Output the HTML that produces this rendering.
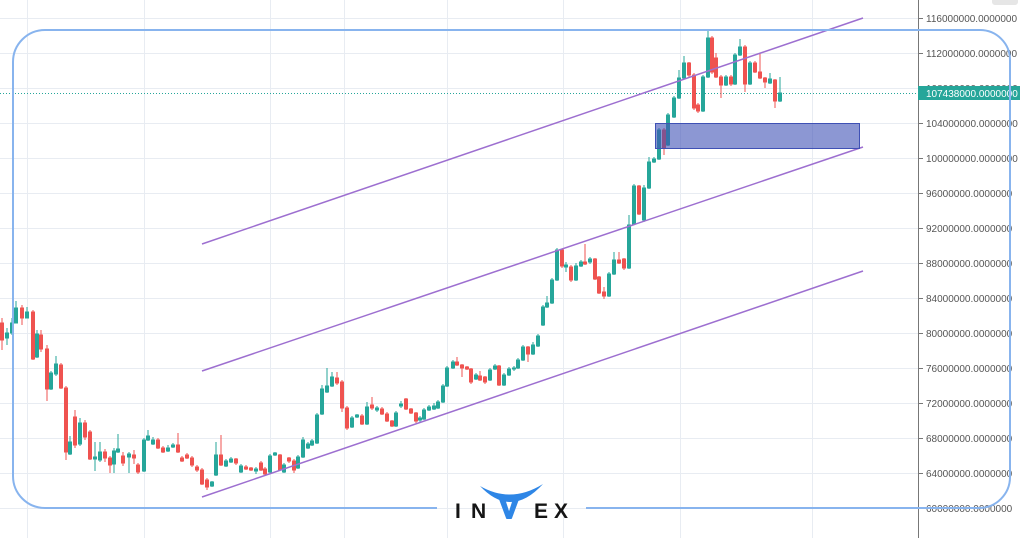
<!DOCTYPE html>
<html><head><meta charset="utf-8"><style>
html,body{margin:0;padding:0;background:#fff;}
svg{display:block;}
text{font-family:"Liberation Sans",sans-serif;}
</style></head><body>
<svg width="1024" height="538" viewBox="0 0 1024 538" xmlns="http://www.w3.org/2000/svg">
<rect width="1024" height="538" fill="#fff"/>
<g stroke="#e8ecf2" stroke-width="1">
<path d="M0 18.5H918M0 53.5H918M0 88.5H918M0 123.5H918M0 158.5H918M0 193.5H918M0 228.5H918M0 263.5H918M0 298.5H918M0 333.5H918M0 368.5H918M0 403.5H918M0 438.5H918M0 473.5H918M0 508.5H918"/>
<path d="M27.5 0V538M144.5 0V538M270.5 0V538M344.5 0V538M447.5 0V538M563.5 0V538M680.5 0V538M812.5 0V538"/>
</g>
<line x1="0" y1="93.5" x2="918" y2="93.5" stroke="#26a69a" stroke-width="1" stroke-dasharray="1,2"/>
<g fill="#26a69a" stroke="#26a69a" stroke-width="1">
<path d="M7 328V345M5.5 333h3V338h-3zM12 318V335M10.5 323h3V333h-3zM16 301V323M14.5 308h3V323h-3zM27 307V318M25.5 312h3V318h-3zM37 330V358M35.5 334h3V357h-3zM51 371V390M49.5 373h3V389h-3zM56 356V376M54.5 364h3V374h-3zM70 436V455M68.5 442h3V454h-3zM80 418V446M78.5 423h3V444h-3zM95 442V471M93.5 457h3V459h-3zM100 442V462M98.5 452h3V460h-3zM114 448V473M112.5 451h3V464h-3zM118 434V453M116.5 449h3V452h-3zM129 452V473M127.5 454h3V457h-3zM144 438V472M142.5 440h3V471h-3zM148 430V441M146.5 436h3V440h-3zM153 437V445M151.5 440h3V444h-3zM168 445V452M166.5 448h3V451h-3zM173 443V448M171.5 445h3V447h-3zM212 481V487M210.5 482h3V486h-3zM216 442V476M214.5 455h3V475h-3zM226 459V467M224.5 461h3V466h-3zM231 457V463M229.5 459h3V462h-3zM241 464V473M239.5 466h3V472h-3zM256 467V474M254.5 469h3V471h-3zM270 454V473M268.5 456h3V472h-3zM275 452V456M273.5 453h3V455h-3zM284 463V473M282.5 465h3V472h-3zM298 455V469M296.5 457h3V468h-3zM303 437V458M301.5 440h3V457h-3zM308 442V449M306.5 444h3V448h-3zM312 439V446M310.5 441h3V445h-3zM317 413V444M315.5 415h3V443h-3zM322 385V415M320.5 389h3V414h-3zM327 368V393M325.5 386h3V392h-3zM332 372V387M330.5 377h3V386h-3zM352 416V428M350.5 418h3V427h-3zM357 414V418M355.5 415h3V417h-3zM367 402V425M365.5 407h3V424h-3zM377 406V412M375.5 408h3V410h-3zM396 411V427M394.5 413h3V426h-3zM401 401V408M399.5 404h3V406h-3zM420 416V422M418.5 418h3V420h-3zM424 408V420M422.5 410h3V419h-3zM429 405V411M427.5 407h3V410h-3zM434 403V410M432.5 406h3V409h-3zM438 400V409M436.5 402h3V408h-3zM443 384V403M441.5 386h3V402h-3zM447 366V387M445.5 368h3V386h-3zM453 360V369M451.5 362h3V368h-3zM476 373V380M474.5 375h3V379h-3zM490 368V381M488.5 370h3V380h-3zM495 364V370M493.5 366h3V369h-3zM504 373V386M502.5 375h3V385h-3zM509 367V376M507.5 369h3V375h-3zM514 366V371M512.5 368h3V369h-3zM518 358V369M516.5 360h3V368h-3zM523 345V361M521.5 347h3V360h-3zM533 342V355M531.5 345h3V354h-3zM538 334V347M536.5 336h3V346h-3zM543 305V326M541.5 307h3V325h-3zM547 296V308M545.5 303h3V307h-3zM552 278V304M550.5 280h3V303h-3zM557 248V281M555.5 250h3V280h-3zM566 262V272M564.5 265h3V267h-3zM576 263V281M574.5 266h3V280h-3zM581 260V267M579.5 262h3V266h-3zM590 257V264M588.5 259h3V262h-3zM609 272V297M607.5 274h3V296h-3zM614 252V275M612.5 260h3V274h-3zM629 215V269M627.5 225h3V268h-3zM634 184V225M632.5 186h3V224h-3zM644 185V222M642.5 188h3V220h-3zM649 157V189M647.5 162h3V188h-3zM654 157V163M652.5 159h3V162h-3zM659 128V160M657.5 130h3V159h-3zM668 113V146M666.5 115h3V145h-3zM674 96V118M672.5 98h3V117h-3zM679 70V99M677.5 78h3V98h-3zM684 56V79M682.5 63h3V78h-3zM703 75V112M701.5 77h3V111h-3zM708 30V78M706.5 38h3V77h-3zM726 75V86M724.5 77h3V85h-3zM735 53V85M733.5 55h3V84h-3zM740 39V56M738.5 47h3V55h-3zM750 61V85M748.5 63h3V84h-3zM770 73V84M768.5 79h3V83h-3zM780 77V102M778.5 93h3V101h-3z"/>
</g>
<g fill="#ef5350" stroke="#ef5350" stroke-width="1">
<path d="M2 318V350M0.5 323h3V340h-3zM22 305V325M20.5 308h3V318h-3zM33 310V360M31.5 312h3V359h-3zM41 330V352M39.5 335h3V349h-3zM47 345V401M45.5 349h3V389h-3zM61 363V389M59.5 365h3V388h-3zM66 386V460M64.5 388h3V452h-3zM75 410V448M73.5 417h3V445h-3zM85 420V440M83.5 423h3V437h-3zM90 430V460M88.5 432h3V459h-3zM105 449V462M103.5 452h3V458h-3zM110 456V473M108.5 458h3V465h-3zM123 452V466M121.5 456h3V463h-3zM134 450V464M132.5 455h3V458h-3zM138 463V474M136.5 465h3V472h-3zM158 438V449M156.5 440h3V448h-3zM163 446V453M161.5 448h3V452h-3zM178 433V453M176.5 445h3V452h-3zM182 456V462M180.5 458h3V461h-3zM187 453V459M185.5 455h3V458h-3zM192 456V467M190.5 458h3V465h-3zM197 465V472M195.5 467h3V470h-3zM202 468V485M200.5 470h3V484h-3zM207 478V490M205.5 480h3V487h-3zM221 435V466M219.5 455h3V465h-3zM236 458V465M234.5 459h3V463h-3zM246 465V470M244.5 467h3V469h-3zM251 467V471M249.5 468h3V470h-3zM261 461V471M259.5 463h3V470h-3zM265 467V475M263.5 469h3V474h-3zM280 454V471M278.5 455h3V470h-3zM289 457V463M287.5 458h3V461h-3zM294 459V473M292.5 461h3V470h-3zM337 372V385M335.5 378h3V383h-3zM342 380V412M340.5 382h3V408h-3zM347 406V430M345.5 408h3V428h-3zM362 414V425M360.5 416h3V424h-3zM372 397V410M370.5 405h3V408h-3zM382 407V415M380.5 409h3V414h-3zM387 412V422M385.5 414h3V421h-3zM392 420V427M390.5 421h3V426h-3zM406 398V410M404.5 399h3V409h-3zM411 408V414M409.5 409h3V413h-3zM416 412V423M414.5 413h3V421h-3zM457 357V366M455.5 362h3V365h-3zM462 364V377M460.5 365h3V368h-3zM467 366V370M465.5 367h3V369h-3zM471 368V384M469.5 369h3V382h-3zM480 371V381M478.5 376h3V380h-3zM485 376V384M483.5 377h3V382h-3zM499 365V386M497.5 366h3V385h-3zM528 346V362M526.5 347h3V354h-3zM562 249V268M560.5 250h3V266h-3zM571 265V282M569.5 267h3V280h-3zM585 244V265M583.5 262h3V264h-3zM595 258V280M593.5 259h3V279h-3zM599 276V294M597.5 277h3V293h-3zM604 287V299M602.5 292h3V296h-3zM619 252V264M617.5 260h3V263h-3zM624 258V270M622.5 259h3V268h-3zM639 185V215M637.5 186h3V214h-3zM664 128V155M662.5 130h3V148h-3zM689 62V77M687.5 63h3V75h-3zM694 73V110M692.5 75h3V108h-3zM698 103V113M696.5 105h3V111h-3zM712 36V74M710.5 38h3V72h-3zM716 53V78M714.5 58h3V77h-3zM721 75V98M719.5 77h3V85h-3zM731 75V86M729.5 77h3V84h-3zM745 45V92M743.5 47h3V84h-3zM755 61V73M753.5 63h3V72h-3zM760 53V79M758.5 72h3V78h-3zM765 77V88M763.5 78h3V82h-3zM775 79V108M773.5 80h3V101h-3z"/>
</g>
<g stroke="#9d6fd0" stroke-width="1.5" fill="none">
<line x1="202" y1="244" x2="863" y2="18"/>
<line x1="202" y1="371" x2="863" y2="147"/>
<line x1="202" y1="497" x2="863" y2="271"/>
</g>
<rect x="655.5" y="123.5" width="204" height="25" fill="#3f51b5" fill-opacity="0.6" stroke="#3f51b5" stroke-width="1"/>
<rect x="918" y="0" width="106" height="538" fill="#fff"/>
<line x1="918.5" y1="0" x2="918.5" y2="538" stroke="#777" stroke-width="1"/>
<rect x="992" y="-4" width="26" height="9" rx="3" fill="#e6e6e6"/>
<g stroke="#777" stroke-width="1">
<path d="M918 18.5h5M918 53.5h5M918 88.5h5M918 123.5h5M918 158.5h5M918 193.5h5M918 228.5h5M918 263.5h5M918 298.5h5M918 333.5h5M918 368.5h5M918 403.5h5M918 438.5h5M918 473.5h5M918 508.5h5"/>
</g>
<g fill="#555" font-size="10">
<text x="926" y="22">116000000.0000000</text>
<text x="926" y="57">112000000.0000000</text>
<text x="926" y="92">108000000.0000000</text>
<text x="926" y="127">104000000.0000000</text>
<text x="926" y="162">100000000.0000000</text>
<text x="926" y="197">96000000.0000000</text>
<text x="926" y="232">92000000.0000000</text>
<text x="926" y="267">88000000.0000000</text>
<text x="926" y="302">84000000.0000000</text>
<text x="926" y="337">80000000.0000000</text>
<text x="926" y="372">76000000.0000000</text>
<text x="926" y="407">72000000.0000000</text>
<text x="926" y="442">68000000.0000000</text>
<text x="926" y="477">64000000.0000000</text>
<text x="926" y="512">60000000.0000000</text>
</g>
<rect x="918" y="86" width="102" height="14" fill="#26a69a"/>
<text x="926" y="97" fill="#fff" font-size="10">107438000.0000000</text>
<path d="M45 30H980A30 30 0 0 1 1010 60V477A31 31 0 0 1 979 508H586M437 508H45A32 32 0 0 1 13 476V62A32 32 0 0 1 45 30" fill="none" stroke="#88b4ee" stroke-width="2"/>
<g font-weight="bold" font-size="21" fill="#151515">
<text x="455" y="518">I</text>
<text x="471" y="518">N</text>
<text x="534" y="518">E</text>
<text x="554" y="518">X</text>
</g>
<path d="M480 486Q511 519 543 484Q511 504 480 486Z" fill="#2e86e6"/>
<text x="509" y="518" font-weight="bold" font-size="27" fill="#2e86e6" stroke="#2e86e6" stroke-width="2" stroke-linejoin="round" text-anchor="middle">V</text>
</svg>
</body></html>
